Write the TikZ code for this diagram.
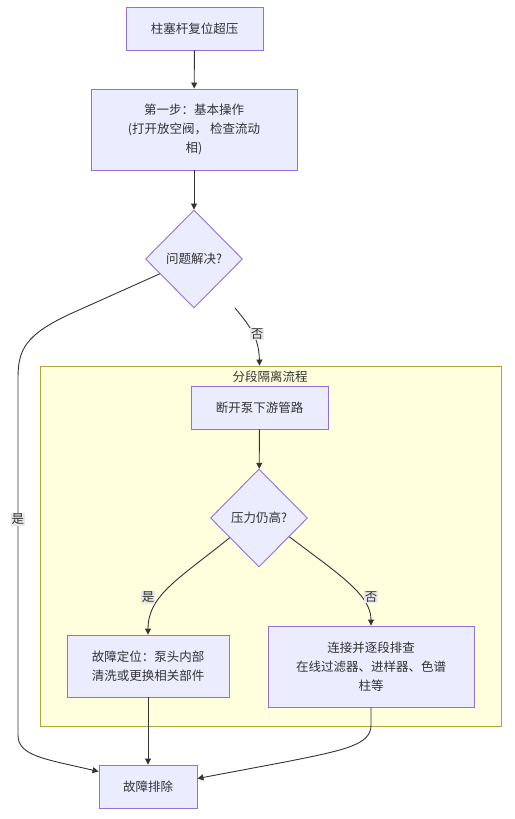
\documentclass[tikz,border=0pt]{standalone}
\usepackage{fontspec}
\setmainfont{Noto Sans CJK SC}
\usetikzlibrary{arrows.meta,calc,shapes.geometric}
\definecolor{nodefill}{HTML}{ECECFF}
\definecolor{nodeline}{HTML}{9370DB}
\definecolor{clfill}{HTML}{FFFFDE}
\definecolor{clline}{HTML}{AAAA33}
\definecolor{edgec}{HTML}{333333}
\definecolor{lblbg}{HTML}{E8E8E8}
\begin{document}
\begin{tikzpicture}[x=1pt,y=-1pt, font=\fontsize{12.5}{18.8}\selectfont, text=edgec,
 box/.style={draw=nodeline, fill=nodefill, line width=0.9pt, align=center, inner sep=0pt},
 dia/.style={diamond, draw=nodeline, fill=nodefill, line width=0.9pt, inner sep=0pt, minimum width=97pt, minimum height=98pt},
 conn/.style={draw=edgec, line width=0.9pt, -{Triangle[length=6pt,width=6pt]}},
 lbl/.style={fill=lblbg, inner sep=1pt}]
\useasboundingbox (0,0) rectangle (514,819);
% cluster
\node (cl) [draw=clline, fill=clfill, line width=0.9pt, minimum width=461pt, minimum height=360pt, inner sep=0pt] at (270.5,546) {};
\node (cltitle) at (270,377) {分段隔离流程};
% nodes
\node (b1) [box, minimum width=137pt, minimum height=43pt] at (194.5,28.5) {柱塞杆复位超压};
\node (b2) [box, minimum width=206pt, minimum height=81pt] at (194,129.5) {第一步：基本操作\\(打开放空阀， 检查流动\\相)};
\node (d1) [dia] at (194,259) {问题解决?};
\node (b3) [box, minimum width=137pt, minimum height=43pt] at (259.5,407.5) {断开泵下游管路};
\node (d2) [dia] at (259,518) {压力仍高?};
\node (b4) [box, minimum width=162pt, minimum height=62pt] at (148,666) {故障定位：泵头内部\\清洗或更换相关部件};
\node (b5) [box, minimum width=206pt, minimum height=81pt] at (371,666.5) {连接并逐段排查\\在线过滤器、进样器、色谱\\柱等};
\node (b6) [box, minimum width=98pt, minimum height=43pt] at (148,786.5) {故障排除};
% helper coordinates
\coordinate (n1s) at (235,308);
\coordinate (n1e) at (b3 |- cl.north);
% edges
\draw[conn] (b1) -- (b2);
\draw[conn] (b2) -- (d1);
\draw[conn] ($(d1.west)!0.3!(d1.south)$) -- (70,314) .. controls (25,335) and (18,350) .. (18,378) -- (18,735) .. controls (18,756) and (45,759) .. ($(b6.west)+(0,-15)$);
\node (ly1) [lbl] at (18,519) {是};
\draw[conn] (n1s) .. controls (250,326) and (259,338) .. (n1e);
\node (ln1) [lbl] at (257,334) {否};
\draw[conn] (b3) -- (d2);
\draw[conn] ($(d2.west)!0.4!(d2.south)$) .. controls (180,578) and (148,595) .. (b4.north);
\node (ly2) [lbl] at (148,597) {是};
\draw[conn] ($(d2.east)!0.38!(d2.south)$) .. controls (340,575) and (371,595) .. (b5.north);
\node (ln2) [lbl] at (371,597) {否};
\draw[conn] (b4) -- (b6);
\draw[conn] (b5.south) -- (371,725) .. controls (371,745) and (345,750) .. (285,762) -- ($(b6.east)+(0,-8)$);
\end{tikzpicture}
\end{document}
